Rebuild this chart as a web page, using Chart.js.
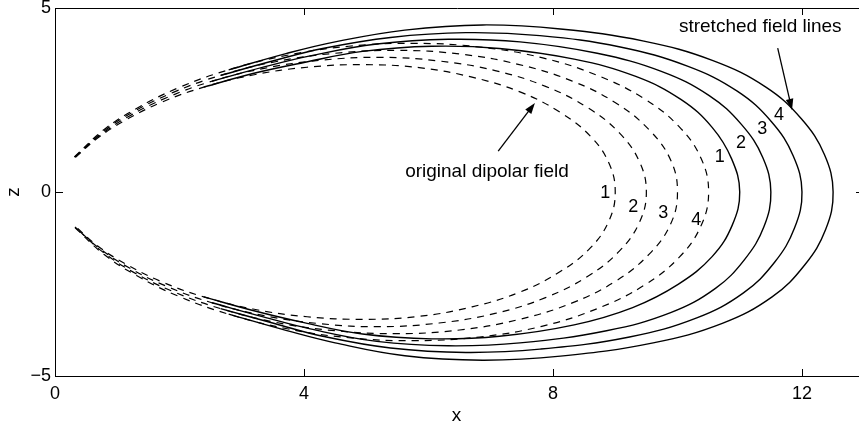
<!DOCTYPE html>
<html>
<head>
<meta charset="utf-8">
<script src="https://cdn.jsdelivr.net/npm/chart.js@4.4.1/dist/chart.umd.min.js"></script>
<style>
  html, body { margin: 0; padding: 0; background: #fff; overflow: hidden; }
  canvas { display: block; }
</style>
</head>
<body>
<canvas id="c" width="859" height="427"></canvas>
<script>
// Axis ticks
const xTicks = [0, 4, 8, 12];
const zTicks = [-5, 0, 5];

// Dipolar field lines (x, z), footpoint north -> equator -> footpoint south
const dipole1 = [[0.33,0.94],[0.68,1.46],[1.13,1.95],[1.70,2.43],[2.39,2.85],[3.18,3.18],[4.05,3.39],[4.95,3.46],[5.85,3.38],[6.70,3.12],[7.47,2.72],[8.11,2.17],[8.60,1.52],[8.90,0.78],[9.00,0],
  [8.90,-0.78],[8.60,-1.52],[8.11,-2.17],[7.47,-2.72],[6.70,-3.12],[5.85,-3.38],[4.95,-3.46],[4.05,-3.39],[3.18,-3.18],[2.39,-2.85],[1.70,-2.43],[1.13,-1.95],[0.68,-1.46],[0.33,-0.94]];
const dipole2 = [[0.32,0.95],[0.72,1.54],[1.19,2.06],[1.79,2.56],[2.52,3.01],[3.36,3.36],[4.27,3.58],[5.22,3.66],[6.17,3.56],[7.07,3.30],[7.88,2.87],[8.56,2.29],[9.07,1.60],[9.39,0.82],[9.50,0],
  [9.39,-0.82],[9.07,-1.60],[8.56,-2.29],[7.88,-2.87],[7.07,-3.30],[6.17,-3.56],[5.22,-3.66],[4.27,-3.58],[3.36,-3.36],[2.52,-3.01],[1.79,-2.56],[1.19,-2.06],[0.72,-1.54],[0.32,-0.95]];
const dipole3 = [[0.32,0.95],[0.76,1.62],[1.25,2.17],[1.89,2.70],[2.66,3.17],[3.54,3.54],[4.50,3.77],[5.50,3.85],[6.50,3.75],[7.44,3.47],[8.30,3.02],[9.01,2.42],[9.55,1.68],[9.89,0.87],[10.00,0],
  [9.89,-0.87],[9.55,-1.68],[9.01,-2.42],[8.30,-3.02],[7.44,-3.47],[6.50,-3.75],[5.50,-3.85],[4.50,-3.77],[3.54,-3.54],[2.66,-3.17],[1.89,-2.70],[1.25,-2.17],[0.76,-1.62],[0.32,-0.95]];
const dipole4 = [[0.31,0.95],[0.79,1.70],[1.31,2.27],[1.98,2.83],[2.79,3.32],[3.71,3.71],[4.72,3.96],[5.77,4.04],[6.82,3.94],[7.82,3.65],[8.71,3.17],[9.46,2.54],[10.03,1.77],[10.38,0.91],[10.50,0],
  [10.38,-0.91],[10.03,-1.77],[9.46,-2.54],[8.71,-3.17],[7.82,-3.65],[6.82,-3.94],[5.77,-4.04],[4.72,-3.96],[3.71,-3.71],[2.79,-3.32],[1.98,-2.83],[1.31,-2.27],[0.79,-1.70],[0.31,-0.95]];

// Stretched field lines (x, z), leaving the dipolar bundle near x = 2.5
const stretched1 = [[2.39,2.85],[3.18,3.22],[4.0,3.52],[4.94,3.82],[6.05,3.96],[7.14,3.90],[8.34,3.61],[9.33,3.14],[10.06,2.51],[10.56,1.75],[10.87,0.90],[11.0,0],
  [10.88,-0.90],[10.56,-1.75],[10.01,-2.51],[9.28,-3.14],[8.34,-3.61],[7.14,-3.92],[6.05,-3.99],[4.94,-3.86],[4.0,-3.55],[3.18,-3.22],[2.39,-2.85]];
const stretched2 = [[2.52,3.01],[3.36,3.40],[4.1,3.70],[5.17,4.02],[6.32,4.15],[7.47,4.08],[8.71,3.77],[9.74,3.28],[10.51,2.62],[11.03,1.83],[11.37,0.94],[11.5,0],
  [11.39,-0.94],[11.08,-1.83],[10.61,-2.62],[9.89,-3.28],[8.86,-3.77],[7.47,-4.10],[6.32,-4.18],[5.17,-4.06],[4.1,-3.72],[3.36,-3.40],[2.52,-3.01]];
const stretched3 = [[2.66,3.17],[3.54,3.58],[4.3,3.90],[5.39,4.20],[6.60,4.33],[7.79,4.25],[9.08,3.94],[10.16,3.42],[10.96,2.74],[11.51,1.91],[11.86,0.98],[12.0,0],
  [11.88,-0.98],[11.56,-1.91],[11.06,-2.74],[10.31,-3.42],[9.23,-3.94],[7.79,-4.27],[6.60,-4.36],[5.39,-4.24],[4.3,-3.92],[3.54,-3.58],[2.66,-3.17]];
const stretched4 = [[2.79,3.32],[3.71,3.76],[4.5,4.08],[5.62,4.40],[6.87,4.54],[8.12,4.43],[9.46,4.10],[10.57,3.57],[11.42,2.85],[11.99,1.99],[12.36,1.02],[12.5,0],
  [12.38,-1.02],[12.04,-1.99],[11.52,-2.85],[10.72,-3.57],[9.61,-4.10],[8.12,-4.46],[6.87,-4.57],[5.62,-4.45],[4.5,-4.10],[3.71,-3.76],[2.79,-3.32]];

const dipoleLines = [dipole1, dipole2, dipole3, dipole4];
const stretchedLines = [stretched1, stretched2, stretched3, stretched4];
const lineNames = ['1', '2', '3', '4'];

// Where the line numbers and captions sit, in data units
const dipoleNameAt = [[8.84,-0.03],[9.29,-0.41],[9.77,-0.57],[10.30,-0.76]];
const stretchedNameAt = [[10.68,0.95],[11.02,1.33],[11.36,1.71],[11.63,2.09]];
const captions = [
  { text: 'original dipolar field', at: [6.94, 0.54], from: [7.12, 1.11], to: [7.71, 2.42] },
  { text: 'stretched field lines', at: [11.33, 4.48], from: [11.61, 3.91], to: [11.84, 2.23] }
];

const FONT = '"Liberation Sans", Arial, Helvetica, sans-serif';

const datasets = [];
dipoleLines.forEach((pts, i) => datasets.push({
  label: 'dipole ' + lineNames[i],
  data: pts.map(p => ({ x: p[0], y: p[1] })),
  showLine: true, borderColor: '#000', borderWidth: 1.2, borderDash: [7, 6],
  pointRadius: 0, tension: 0.4, fill: false
}));
stretchedLines.forEach((pts, i) => datasets.push({
  label: 'stretched ' + lineNames[i],
  data: pts.map(p => ({ x: p[0], y: p[1] })),
  showLine: true, borderColor: '#000', borderWidth: 1.4,
  pointRadius: 0, tension: 0.4, fill: false
}));

const fmt = v => (v < 0 ? '\u2212' + Math.abs(v) : String(v));

// Frame, inward ticks, line numbers and captions with arrows
const decorations = {
  id: 'decorations',
  afterDraw(chart) {
    const { ctx, chartArea: a, scales: { x, y } } = chart;
    ctx.save();
    ctx.strokeStyle = '#000';
    ctx.lineWidth = 1;
    ctx.beginPath();
    ctx.moveTo(a.left, Math.round(a.top) + 0.5);
    ctx.lineTo(a.right + 2, Math.round(a.top) + 0.5);
    const tl = 7;
    xTicks.forEach(v => {
      const px = Math.round(x.getPixelForValue(v)) + 0.5;
      ctx.moveTo(px, a.bottom); ctx.lineTo(px, a.bottom - tl);
      ctx.moveTo(px, a.top); ctx.lineTo(px, a.top + tl);
    });
    zTicks.forEach(v => {
      const py = Math.round(y.getPixelForValue(v)) + 0.5;
      ctx.moveTo(a.left, py); ctx.lineTo(a.left + tl + 1, py);
      ctx.moveTo(a.right + 6, py); ctx.lineTo(a.right - 2, py);
    });
    ctx.stroke();

    ctx.fillStyle = '#000';
    ctx.textAlign = 'center';
    ctx.textBaseline = 'middle';
    ctx.font = '18px ' + FONT;
    dipoleNameAt.forEach((p, i) => ctx.fillText(lineNames[i], x.getPixelForValue(p[0]), y.getPixelForValue(p[1])));
    stretchedNameAt.forEach((p, i) => ctx.fillText(lineNames[i], x.getPixelForValue(p[0]), y.getPixelForValue(p[1])));

    ctx.font = '19px ' + FONT;
    captions.forEach(c => {
      ctx.fillText(c.text, x.getPixelForValue(c.at[0]), y.getPixelForValue(c.at[1]));
      const x0 = x.getPixelForValue(c.from[0]), y0 = y.getPixelForValue(c.from[1]);
      const x1 = x.getPixelForValue(c.to[0]), y1 = y.getPixelForValue(c.to[1]);
      const ang = Math.atan2(y1 - y0, x1 - x0);
      const hl = 11, hw = 3.8;
      ctx.beginPath();
      ctx.lineWidth = 1.3;
      ctx.moveTo(x0, y0);
      ctx.lineTo(x1 - Math.cos(ang) * hl * 0.8, y1 - Math.sin(ang) * hl * 0.8);
      ctx.stroke();
      ctx.beginPath();
      ctx.moveTo(x1, y1);
      ctx.lineTo(x1 - Math.cos(ang) * hl - Math.sin(ang) * hw, y1 - Math.sin(ang) * hl + Math.cos(ang) * hw);
      ctx.lineTo(x1 - Math.cos(ang) * hl + Math.sin(ang) * hw, y1 - Math.sin(ang) * hl - Math.cos(ang) * hw);
      ctx.closePath();
      ctx.fill();
    });
    ctx.restore();
  }
};

new Chart(document.getElementById('c'), {
  type: 'scatter',
  data: { datasets },
  options: {
    responsive: false,
    devicePixelRatio: 1,
    animation: false,
    layout: { padding: { top: 8, right: 1, left: 0, bottom: 0 } },
    plugins: { legend: { display: false }, tooltip: { enabled: false } },
    scales: {
      x: {
        type: 'linear', min: 0, max: 12.9,
        afterBuildTicks: s => { s.ticks = xTicks.map(v => ({ value: v })); },
        afterFit: s => { s.height = 51; s.paddingLeft = 0; s.paddingRight = 0; },
        grid: { display: false, drawTicks: false },
        border: { display: true, color: '#000', width: 1 },
        ticks: { color: '#000', font: { family: FONT, size: 18 }, padding: 7, maxRotation: 0, autoSkip: false, callback: v => fmt(v) },
        title: { display: true, text: 'x', color: '#000', font: { family: FONT, size: 19 }, padding: { top: 0, bottom: 0 } }
      },
      y: {
        type: 'linear', min: -5, max: 5,
        afterBuildTicks: s => { s.ticks = zTicks.map(v => ({ value: v })); },
        afterFit: s => { s.width = 55; s.paddingTop = 0; s.paddingBottom = 0; },
        grid: { display: false, drawTicks: false },
        border: { display: true, color: '#000', width: 1 },
        ticks: { color: '#000', font: { family: FONT, size: 18 }, padding: 4, autoSkip: false, callback: v => fmt(v) },
        title: { display: true, text: 'z', color: '#000', font: { family: FONT, size: 19 }, padding: { top: 2, bottom: 0 } }
      }
    }
  },
  plugins: [decorations]
});
</script>
</body>
</html>
